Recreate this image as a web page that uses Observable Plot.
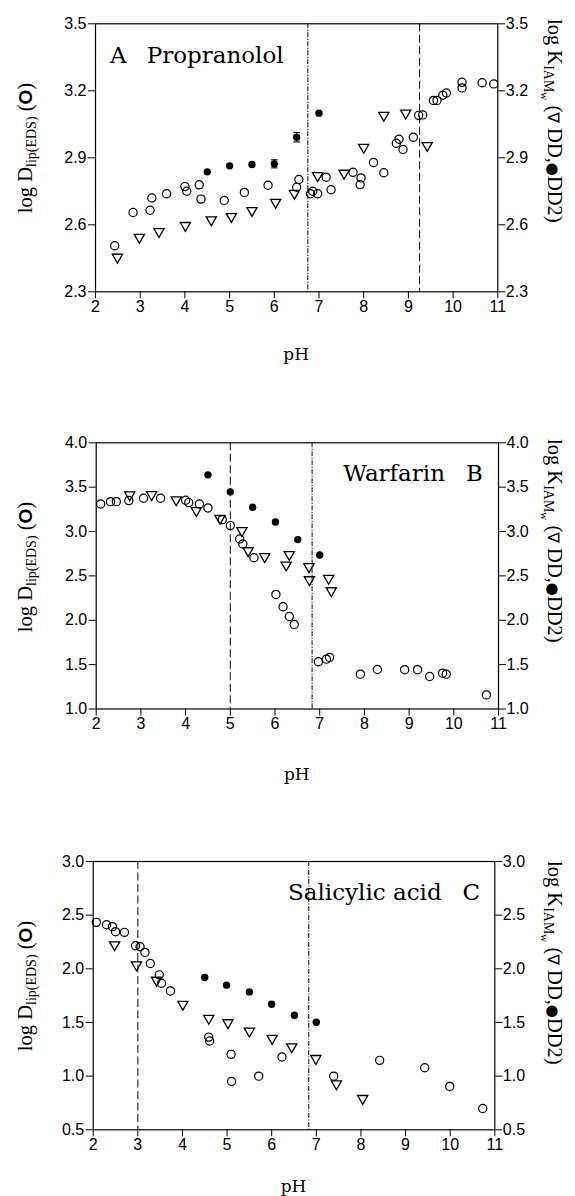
<!DOCTYPE html>
<html><head><meta charset="utf-8">
<script src="https://cdn.jsdelivr.net/npm/d3@7"></script>
<script src="https://cdn.jsdelivr.net/npm/@observablehq/plot@0.6"></script>
<style>
body{margin:0;background:#fff;}
#chart{position:relative;width:575px;height:1196px;overflow:hidden;background:#fff;}
#chart svg{display:block;}
</style></head><body><div id="chart"></div>
<script>
// ---------- tick labels ----------
const phTicks = [2, 3, 4, 5, 6, 7, 8, 9, 10, 11];
const yTicksA = [2.3, 2.6, 2.9, 3.2, 3.5];
const yTicksB = [1.0, 1.5, 2.0, 2.5, 3.0, 3.5, 4.0];
const yTicksC = [0.5, 1.0, 1.5, 2.0, 2.5, 3.0];

// ---------- A: Propranolol ----------
const propCircPH  = [2.43,2.84,3.22,3.26,3.59,4.00,4.04,4.32,4.36,4.88,5.33,5.86,6.50,6.55,6.81,6.86,6.97,7.16,7.27,7.76,7.94,7.92,8.22,8.45,8.73,8.79,8.88,9.11,9.23,9.32,9.56,9.64,9.77,9.85,10.20,10.20,10.65,10.91];
const propCircLog = [2.506,2.655,2.665,2.720,2.739,2.771,2.750,2.779,2.715,2.709,2.745,2.777,2.768,2.803,2.739,2.750,2.739,2.813,2.757,2.835,2.810,2.780,2.879,2.833,2.965,2.983,2.937,2.992,3.090,3.092,3.157,3.157,3.180,3.190,3.238,3.213,3.236,3.231];
const propTriPH   = [2.49,2.98,3.42,4.01,4.59,5.04,5.50,6.03,6.45,6.97,7.56,8.00,8.45,8.94,9.42];
const propTriLog  = [2.455,2.544,2.570,2.597,2.622,2.637,2.664,2.701,2.741,2.820,2.831,2.947,3.090,3.100,2.955];
const propDD2PH   = [4.5,5.0,5.5,6.0,6.5,7.0];
const propDD2Log  = [2.837,2.864,2.870,2.873,2.992,3.100];
const propDD2Err  = [0,0,0,0.018,0.021,0];

// ---------- B: Warfarin ----------
const warfCircPH  = [2.10,2.32,2.45,2.73,3.06,3.44,4.00,4.07,4.31,4.50,4.82,5.00,5.21,5.28,5.53,6.02,6.18,6.32,6.43,6.97,7.15,7.22,7.91,8.29,8.90,9.19,9.46,9.75,9.83,10.73];
const warfCircLog = [3.310,3.337,3.337,3.349,3.375,3.375,3.352,3.326,3.310,3.266,3.134,3.067,2.916,2.860,2.705,2.291,2.152,2.043,1.953,1.532,1.562,1.580,1.393,1.445,1.443,1.443,1.366,1.404,1.393,1.159];
const warfTriPH   = [2.75,3.24,3.79,4.24,4.77,5.26,5.40,5.77,6.32,6.25,6.76,6.77,7.20,7.26];
const warfTriLog  = [3.413,3.416,3.357,3.236,3.149,3.010,2.784,2.717,2.740,2.623,2.604,2.457,2.472,2.333];
const warfDD2PH   = [4.50,5.00,5.50,6.01,6.51,7.00];
const warfDD2Log  = [3.639,3.447,3.273,3.108,2.909,2.736];
const warfDD2Err  = [0,0,0,0,0,0];

// ---------- C: Salicylic acid ----------
const salCircPH  = [2.07,2.30,2.43,2.50,2.70,2.95,3.05,3.16,3.28,3.48,3.53,3.73,4.59,4.61,5.09,5.10,5.71,6.23,7.39,8.42,9.43,9.99,10.73];
const salCircLog = [2.433,2.411,2.393,2.346,2.340,2.215,2.206,2.153,2.050,1.944,1.866,1.794,1.364,1.327,1.203,0.950,1.000,1.178,1.000,1.147,1.078,0.904,0.698];
const salTriPH   = [2.48,2.97,3.42,4.01,4.59,5.02,5.50,6.01,6.45,6.99,7.45,8.04];
const salTriLog  = [2.224,2.037,1.894,1.670,1.539,1.498,1.420,1.352,1.274,1.165,0.928,0.792];
const salDD2PH   = [4.50,4.99,5.50,6.00,6.51,7.00];
const salDD2Log  = [1.919,1.848,1.785,1.670,1.567,1.502];
const salDD2Err  = [0,0,0,0,0,0];

// ---------- reference pH lines ----------
const propDashed = [9.25],  propDashDot = [6.75];
const warfDashed = [5.0],   warfDashDot = [6.83];
const salDashed  = [3.0],   salDashDot  = [6.83];

const SERIF = "'DejaVu Serif', serif";
const LSERIF = "'Liberation Serif', 'Times New Roman', serif";
const SANS = "'Liberation Sans', Arial, Helvetica, sans-serif";

function zip(xs, ys, es) { return xs.map((x, i) => ({x, y: ys[i], e: es ? es[i] : 0})); }

function panel(p) {
  const circ = zip(p.circPH, p.circLog);
  const tri = zip(p.triPH, p.triLog);
  const dd2 = zip(p.dd2PH, p.dd2Log, p.dd2Err);
  const err = dd2.filter(d => d.e > 0);
  const fmt = d3.format(".1f");
  const cap = 0.075;
  const chart = Plot.plot({
    width: 575, height: p.h,
    marginLeft: p.ml, marginRight: p.mr, marginTop: p.mt, marginBottom: p.mb,
    x: {domain: [2, 11]},
    y: {domain: p.yDomain},
    style: {fontFamily: SANS, fontSize: "16px", color: "black", background: "white", overflow: "visible"},
    marks: [
      Plot.ruleX(p.dashed, {strokeDasharray: "8,3.5", strokeWidth: 1.1, stroke: "#222"}),
      Plot.ruleX(p.dashdot, {strokeDasharray: "5,1.4,1.2,1.4", strokeWidth: 1.1, stroke: "#222"}),
      Plot.ruleX(err, {x: "x", y1: d => d.y - d.e, y2: d => d.y + d.e, strokeWidth: 1.1}),
      Plot.link(err, {x1: d => d.x - cap, x2: d => d.x + cap, y1: d => d.y - d.e, y2: d => d.y - d.e, strokeWidth: 1.1}),
      Plot.link(err, {x1: d => d.x - cap, x2: d => d.x + cap, y1: d => d.y + d.e, y2: d => d.y + d.e, strokeWidth: 1.1}),
      Plot.dot(circ, {x: "x", y: "y", r: 4.1, stroke: "black", strokeWidth: 1.2, fill: "none"}),
      Plot.dot(tri, {x: "x", y: "y", symbol: "triangle", r: 3.8, rotate: 180, stroke: "black", strokeWidth: 1.3, fill: "none"}),
      Plot.dot(dd2, {x: "x", y: "y", r: 3.7, fill: "black"}),
      Plot.frame({strokeWidth: 1.2}),
      Plot.axisX({ticks: phTicks, tickSize: 7, tickPadding: 2, tickFormat: d => String(d), label: null, fontSize: 16}),
      Plot.axisY({ticks: p.yTicks, tickSize: 7, tickPadding: 2, tickFormat: fmt, label: null, fontSize: 16}),
      Plot.axisY({anchor: "right", ticks: p.yTicks, tickSize: 7, tickPadding: 1, tickFormat: fmt, label: null, fontSize: 16})
    ]
  });
  const svg = d3.select(chart);
  // panel title
  p.title.forEach(t => {
    svg.append("text").attr("x", t.x).attr("y", p.titleY).attr("text-anchor", t.anchor)
      .attr("font-family", SERIF).attr("font-size", 23).attr("fill", "black").text(t.s);
  });
  // x label
  svg.append("text").attr("x", (p.ml + 575 - p.mr) / 2).attr("y", p.phY).attr("text-anchor", "middle")
    .attr("font-family", SERIF).attr("font-size", 17).attr("fill", "black").text("pH");
  // left label
  const L = svg.append("text").attr("transform", `translate(${p.lx},${p.ly}) rotate(-90)`)
    .attr("text-anchor", "middle").attr("font-family", LSERIF).attr("font-size", 20.5).attr("fill", "black");
  L.append("tspan").text("log D");
  L.append("tspan").attr("font-size", 14).attr("dy", 4).text("lip(EDS)");
  L.append("tspan").attr("dy", -4).text(" (");
  L.append("tspan").attr("font-family", SANS).attr("font-weight", "bold").attr("font-size", 19).text("O");
  L.append("tspan").text(")");
  // right label
  const R = svg.append("text").attr("transform", `translate(${p.rx},${p.ry}) rotate(90)`)
    .attr("text-anchor", "start").attr("font-family", LSERIF).attr("font-size", 20.5).attr("fill", "black");
  R.append("tspan").text("log K");
  R.append("tspan").attr("font-size", 14).attr("dy", 4).text("IAM");
  R.append("tspan").attr("font-size", 11).attr("dy", 3).text("w");
  R.append("tspan").attr("dy", -7).text(" (");
  R.append("tspan").attr("font-family", "'DejaVu Sans', sans-serif").attr("font-size", 16).text("\u2207");
  R.append("tspan").text(" DD,");
  R.append("tspan").attr("font-family", "'DejaVu Sans', sans-serif").attr("font-size", 15).text("\u25CF");
  R.append("tspan").text("DD2)");
  return chart;
}

const root = document.getElementById("chart");
root.appendChild(panel({
  h: 400, ml: 95, mr: 77.7, mt: 23.3, mb: 108.7, yDomain: [2.3, 3.5], yTicks: yTicksA,
  circPH: propCircPH, circLog: propCircLog, triPH: propTriPH, triLog: propTriLog,
  dd2PH: propDD2PH, dd2Log: propDD2Log, dd2Err: propDD2Err,
  dashed: propDashed, dashdot: propDashDot,
  title: [{s: "A", x: 110, anchor: "start"}, {s: "Propranolol", x: 146.7, anchor: "start"}], titleY: 62.7,
  phY: 360, lx: 32, ly: 148, rx: 548, ry: 19
}));
root.appendChild(panel({
  h: 420, ml: 95.7, mr: 77, mt: 42.3, mb: 111.5, yDomain: [1.0, 4.0], yTicks: yTicksB,
  circPH: warfCircPH, circLog: warfCircLog, triPH: warfTriPH, triLog: warfTriLog,
  dd2PH: warfDD2PH, dd2Log: warfDD2Log, dd2Err: warfDD2Err,
  dashed: warfDashed, dashdot: warfDashDot,
  title: [{s: "Warfarin", x: 445, anchor: "end"}, {s: "B", x: 483, anchor: "end"}], titleY: 81,
  phY: 379.5, lx: 32, ly: 167, rx: 548, ry: 39
}));
root.appendChild(panel({
  h: 376, ml: 92.7, mr: 80.7, mt: 41, mb: 66.7, yDomain: [0.5, 3.0], yTicks: yTicksC,
  circPH: salCircPH, circLog: salCircLog, triPH: salTriPH, triLog: salTriLog,
  dd2PH: salDD2PH, dd2Log: salDD2Log, dd2Err: salDD2Err,
  dashed: salDashed, dashdot: salDashDot,
  title: [{s: "Salicylic acid", x: 441.7, anchor: "end"}, {s: "C", x: 480, anchor: "end"}], titleY: 80,
  phY: 372, lx: 32, ly: 166, rx: 548, ry: 41
}));
</script></body></html>
